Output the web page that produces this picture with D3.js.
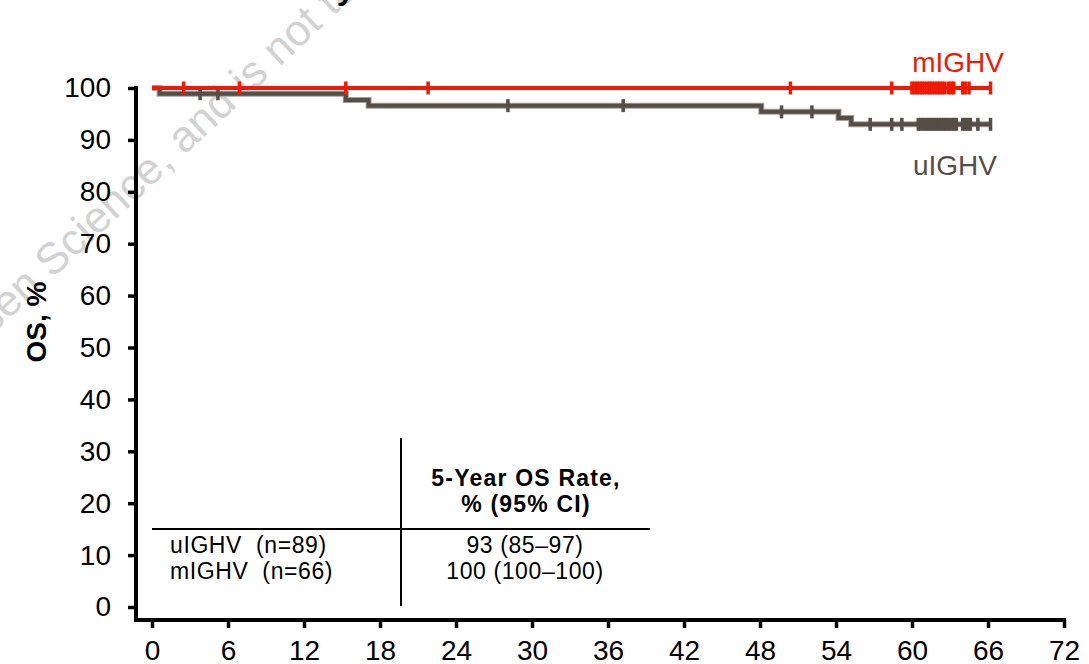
<!DOCTYPE html>
<html>
<head>
<meta charset="utf-8">
<script src="https://cdn.jsdelivr.net/npm/d3@7"></script>
<style>
  body { margin: 0; background: #fff; }
  svg { display: block; font-family: "Liberation Sans", Arial, sans-serif; }
</style>
</head>
<body>
<div id="chart"></div>
<script>
// months on study vs overall survival (%)
const xTicks = [0, 6, 12, 18, 24, 30, 36, 42, 48, 54, 60, 66, 72];
const yTicks = [0, 10, 20, 30, 40, 50, 60, 70, 80, 90, 100];

// KM steps
const uStepTimes = [0, 0.6, 15.3, 17.1, 48.1, 54.2, 55.2, 66.2];
const uStepSurv  = [100, 98.9, 97.7, 96.6, 95.4, 94.2, 93.0, 93.0];
const mStepTimes = [0, 66.2];
const mStepSurv  = [100, 100];

// censored patients (months)
const uCensor = [3.8, 5.2, 28.1, 37.2, 49.7, 52.1, 56.7, 58.4, 59.2,
                 60.5, 60.7, 60.9, 61.1, 61.3, 61.5, 61.7, 61.9, 62.1, 62.3, 62.5, 62.7, 62.9,
                 63.1, 63.3, 63.5, 64.0, 64.2, 64.4, 64.6, 65.2, 66.2];
const mCensor = [2.5, 6.9, 15.3, 21.8, 50.4, 58.4,
                 60.0, 60.2, 60.4, 60.6, 60.8, 61.0, 61.2, 61.4, 61.6, 61.8, 62.0, 62.2, 62.4, 62.6,
                 62.9, 63.1, 63.3, 64.0, 64.2, 64.5, 66.2];

const tableHeader = ["5-Year OS Rate,", "% (95% CI)"];
const tableGroups = ["uIGHV  (n=89)", "mIGHV  (n=66)"];
const tableRates  = ["93 (85\u201397)", "100 (100\u2013100)"];

(function() {
    const width = 1089, height = 664;
    const red = "#ee1a06", grey = "#554d48";

    const svg = d3.select("#chart").append("svg")
        .attr("width", width).attr("height", height);

    const x = d3.scaleLinear().domain([0, 72]).range([152, 1064]);
    const y = d3.scaleLinear().domain([0, 100]).range([607, 88]);
    const axisX = 136, axisY = 620;

    // watermark
    const wm = svg.append("g")
        .attr("transform", "translate(52,279) rotate(-43)")
        .attr("fill", "#d2d2d2")
        .style("font-size", "44px");
    wm.append("text").attr("x", -12).attr("text-anchor", "end").text("property of Janssen");
    wm.append("text").attr("text-anchor", "start").text("Science, and is not to be distributed");

    // title (cut off at the top)
    svg.append("text")
        .attr("x", 262).attr("y", -1)
        .style("font-size", "32px").style("font-weight", "bold")
        .text("OS by IGHV Mutation Status");

    // axes
    const yAxis = svg.append("g")
        .attr("transform", `translate(${axisX},0)`)
        .call(d3.axisLeft(y).tickValues(yTicks).tickSize(8).tickPadding(17));
    const xAxis = svg.append("g")
        .attr("transform", `translate(0,${axisY})`)
        .call(d3.axisBottom(x).tickValues(xTicks).tickSize(8).tickPadding(12));
    [yAxis, xAxis].forEach(g => {
        g.select(".domain").remove();
        g.selectAll(".tick line").attr("stroke", "#000").attr("stroke-width", 3.5);
        g.selectAll(".tick text").attr("fill", "#000").style("font-size", "28px")
            .style("font-family", "'Liberation Sans', Arial, sans-serif");
    });
    svg.append("line")
        .attr("x1", axisX).attr("x2", axisX)
        .attr("y1", y(100) - 2).attr("y2", axisY + 2)
        .attr("stroke", "#000").attr("stroke-width", 4);
    svg.append("line")
        .attr("x1", axisX - 2).attr("x2", x(72) + 2)
        .attr("y1", axisY).attr("y2", axisY)
        .attr("stroke", "#000").attr("stroke-width", 4);

    // y label
    svg.append("text")
        .attr("transform", `translate(46,${322}) rotate(-90)`)
        .attr("text-anchor", "middle")
        .style("font-size", "28px").style("font-weight", "bold")
        .text("OS, %");

    // KM curves
    const line = d3.line().x(d => x(d[0])).y(d => y(d[1])).curve(d3.curveStepAfter);
    const uPts = uStepTimes.map((t, i) => [t, uStepSurv[i]]);
    const mPts = mStepTimes.map((t, i) => [t, mStepSurv[i]]);

    // survival at time t on a step curve
    const survAt = (times, surv, t) => {
        let s = surv[0];
        times.forEach((tt, i) => { if (tt <= t) s = surv[i]; });
        return s;
    };

    svg.append("path").datum(uPts).attr("d", line)
        .attr("fill", "none").attr("stroke", "#a59e99").attr("stroke-width", 6);
    svg.append("path").datum(uPts).attr("d", line)
        .attr("fill", "none").attr("stroke", grey).attr("stroke-width", 4);
    svg.selectAll(".ucens").data(uCensor).enter().append("line")
        .attr("class", "ucens")
        .attr("x1", d => x(d)).attr("x2", d => x(d))
        .attr("y1", d => y(survAt(uStepTimes, uStepSurv, d)) - 6.5)
        .attr("y2", d => y(survAt(uStepTimes, uStepSurv, d)) + 6.5)
        .attr("stroke", grey).attr("stroke-width", 3.5);

    svg.append("path").datum(mPts).attr("d", line)
        .attr("fill", "none").attr("stroke", red).attr("stroke-width", 4);
    svg.selectAll(".mcens").data(mCensor).enter().append("line")
        .attr("class", "mcens")
        .attr("x1", d => x(d)).attr("x2", d => x(d))
        .attr("y1", d => y(survAt(mStepTimes, mStepSurv, d)) - 6.5)
        .attr("y2", d => y(survAt(mStepTimes, mStepSurv, d)) + 6.5)
        .attr("stroke", red).attr("stroke-width", 3.5);

    // series labels
    svg.append("text").attr("x", 1004).attr("y", 72).attr("text-anchor", "end")
        .attr("fill", red).style("font-size", "28px").text("mIGHV");
    svg.append("text").attr("x", 997).attr("y", 175).attr("text-anchor", "end")
        .attr("fill", grey).style("font-size", "28px").text("uIGHV");

    // table
    const tbl = svg.append("g");
    tbl.append("line").attr("x1", 401).attr("x2", 401).attr("y1", 438).attr("y2", 606)
        .attr("stroke", "#000").attr("stroke-width", 2);
    tbl.append("line").attr("x1", 152).attr("x2", 650).attr("y1", 529).attr("y2", 529)
        .attr("stroke", "#000").attr("stroke-width", 2);
    tbl.selectAll(".hdr").data(tableHeader).enter().append("text")
        .attr("class", "hdr")
        .attr("x", 526).attr("y", (d, i) => 486 + i * 26)
        .attr("text-anchor", "middle")
        .style("font-size", "23px").style("font-weight", "bold").style("letter-spacing", "1.2px")
        .text(d => d);
    tbl.selectAll(".grp").data(tableGroups).enter().append("text")
        .attr("class", "grp")
        .attr("x", 170).attr("y", (d, i) => 553 + i * 26)
        .style("font-size", "23px").style("white-space", "pre").style("letter-spacing", "0.6px")
        .text(d => d);
    tbl.selectAll(".rate").data(tableRates).enter().append("text")
        .attr("class", "rate")
        .attr("x", 525).attr("y", (d, i) => 553 + i * 26)
        .attr("text-anchor", "middle")
        .style("font-size", "23px").style("letter-spacing", "0.6px")
        .text(d => d);
})();
</script>
</body>
</html>
